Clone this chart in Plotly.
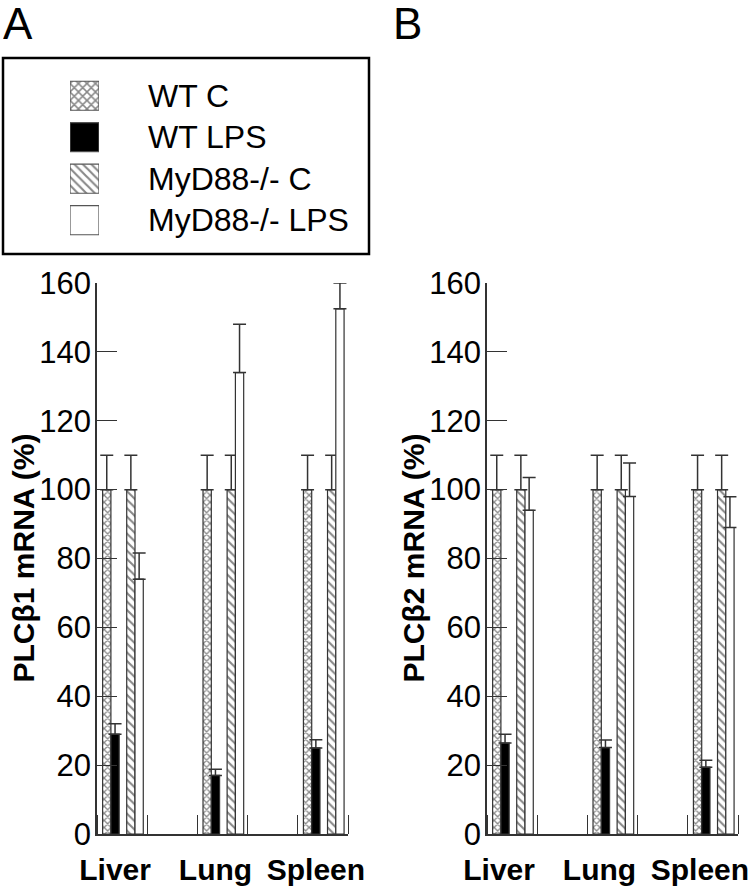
import plotly.graph_objects as go

# ---------------- data ----------------
tissues = ["Liver", "Lung", "Spleen"]
group_pos = [0.5, 2.5, 4.5]
series_names = ["WT C", "WT LPS", "MyD88-/- C", "MyD88-/- LPS"]

# Panel A: PLCβ1 mRNA (%)
plcb1_wt_c = [100, 100, 100]
plcb1_wt_c_err = [10, 10, 10]
plcb1_wt_lps = [29, 17, 25]
plcb1_wt_lps_err = [3, 1.8, 2.4]
plcb1_myd_c = [100, 100, 100]
plcb1_myd_c_err = [10, 10, 10]
plcb1_myd_lps = [74, 134, 152.5]
plcb1_myd_lps_err = [7.6, 14, 7.5]

# Panel B: PLCβ2 mRNA (%)
plcb2_wt_c = [100, 100, 100]
plcb2_wt_c_err = [10, 10, 10]
plcb2_wt_lps = [26.4, 25.1, 19.4]
plcb2_wt_lps_err = [2.6, 2.2, 2.0]
plcb2_myd_c = [100, 100, 100]
plcb2_myd_c_err = [10, 10, 10]
plcb2_myd_lps = [94, 98, 89]
plcb2_myd_lps_err = [9.5, 9.7, 8.9]

y_ticks = [0, 20, 40, 60, 80, 100, 120, 140, 160]

# ---------------- styles ----------------
W, H = 750, 889
FONT = "Liberation Sans, Arial, sans-serif"
LINE = "#333333"
styles = [
    dict(color="white", pattern=dict(shape="x", size=5, solidity=0.45, fgcolor="#111", bgcolor="white")),
    dict(color="black", pattern=None),
    dict(color="white", pattern=dict(shape="\\", size=6, solidity=0.35, fgcolor="#111", bgcolor="white")),
    dict(color="white", pattern=None),
]
offsets = [-0.388, -0.223, 0.092, 0.257]
bar_w = 0.165


def px_x(p):
    return p / W


def px_y(p):
    return (H - p) / H


fig = go.Figure()

panels = [
    ("x", "y", [plcb1_wt_c, plcb1_wt_lps, plcb1_myd_c, plcb1_myd_lps],
     [plcb1_wt_c_err, plcb1_wt_lps_err, plcb1_myd_c_err, plcb1_myd_lps_err]),
    ("x2", "y2", [plcb2_wt_c, plcb2_wt_lps, plcb2_myd_c, plcb2_myd_lps],
     [plcb2_wt_c_err, plcb2_wt_lps_err, plcb2_myd_c_err, plcb2_myd_lps_err]),
]

for xa, ya, vals, errs in panels:
    for i, name in enumerate(series_names):
        st = styles[i]
        marker = dict(color=st["color"], line=dict(color=LINE, width=1.2))
        if st["pattern"]:
            marker["pattern"] = st["pattern"]
        fig.add_trace(go.Bar(
            x=group_pos, y=vals[i], name=name, xaxis=xa, yaxis=ya,
            offset=offsets[i], width=bar_w, marker=marker, showlegend=False,
            error_y=dict(type="data", array=errs[i], arrayminus=[0] * len(errs[i]),
                         symmetric=False, color=LINE, thickness=1.5, width=6.5),
        ))

# legend swatches as bars on an auxiliary axis
for i, name in enumerate(series_names):
    st = styles[i]
    marker = dict(color=st["color"], line=dict(color="#555", width=1.2))
    if st["pattern"]:
        marker["pattern"] = dict(st["pattern"], size=6)
    fig.add_trace(go.Bar(
        x=[1], y=[name], orientation="h", xaxis="x3", yaxis="y3",
        width=0.7, marker=marker, showlegend=False, hoverinfo="skip",
    ))

axis_common = dict(showgrid=False, zeroline=False, showline=True, linecolor=LINE,
                   linewidth=1.5, automargin=False)

xdomA = [px_x(97), px_x(348)]
xdomB = [px_x(487), px_x(738)]
ydom = [px_y(834), px_y(283)]

for key, dom, anchor, shift in [("xaxis", xdomA, "y", -7), ("xaxis2", xdomB, "y2", -13)]:
    fig.layout[key] = dict(
        axis_common, domain=dom, anchor=anchor, range=[0, 5],
        tickmode="array", tickvals=group_pos, ticktext=tissues, ticks="",
        ticklabelshift=shift, ticklabelstandoff=8,
        tickfont=dict(family=FONT, size=30, color="black", weight="bold"),
        minor=dict(ticks="inside", ticklen=19, tickcolor=LINE, tickwidth=1.3,
                   tickmode="linear", tick0=0, dtick=1),
    )

for key, anchor in [("yaxis", "x"), ("yaxis2", "x2")]:
    fig.layout[key] = dict(
        axis_common, domain=ydom, anchor=anchor, range=[0, 160],
        tickmode="array", tickvals=y_ticks, ticks="inside", ticklen=20,
        tickcolor=LINE, tickwidth=1.3, ticklabelstandoff=-2,
        tickfont=dict(family=FONT, size=31, color="black"),
    )

fig.layout["xaxis3"] = dict(domain=[px_x(70), px_x(99)], anchor="y3", range=[0, 1],
                            visible=False, fixedrange=True, automargin=False)
fig.layout["yaxis3"] = dict(domain=[px_y(241), px_y(75)], anchor="x3", side="right",
                            categoryorder="array", categoryarray=series_names,
                            autorange="reversed", showline=False, showgrid=False,
                            zeroline=False, ticks="", ticklabelstandoff=48,
                            automargin=False,
                            tickfont=dict(family=FONT, size=32, color="black"))

annotations = [
    dict(text="A", x=px_x(1), y=px_y(0), xref="paper", yref="paper", xanchor="left",
         yanchor="top", height=42, valign="middle", showarrow=False,
         font=dict(family=FONT, size=44, color="black")),
    dict(text="B", x=px_x(391), y=px_y(0), xref="paper", yref="paper", xanchor="left",
         yanchor="top", height=42, valign="middle", showarrow=False,
         font=dict(family=FONT, size=44, color="black")),
    dict(text="PLCβ1 mRNA (%)", x=px_x(23), y=sum(ydom) / 2, xref="paper", yref="paper",
         xanchor="center", yanchor="middle", textangle=-90, showarrow=False,
         font=dict(family=FONT, size=30, color="black", weight="bold")),
    dict(text="PLCβ2 mRNA (%)", x=px_x(413), y=sum(ydom) / 2, xref="paper", yref="paper",
         xanchor="center", yanchor="middle", textangle=-90, showarrow=False,
         font=dict(family=FONT, size=30, color="black", weight="bold")),
]

fig.update_layout(
    width=W, height=H, margin=dict(l=0, r=0, t=0, b=0, autoexpand=False),
    paper_bgcolor="white", plot_bgcolor="white", barmode="overlay",
    showlegend=False, annotations=annotations,
    shapes=[dict(type="rect", xref="paper", yref="paper",
                 x0=px_x(3), x1=px_x(369), y0=px_y(254), y1=px_y(58),
                 line=dict(color="black", width=2.5))],
)

fig.write_html("out.html", config={"displayModeBar": False},
               post_script="document.body.style.margin='0';"
               "document.body.style.overflow='hidden';")
